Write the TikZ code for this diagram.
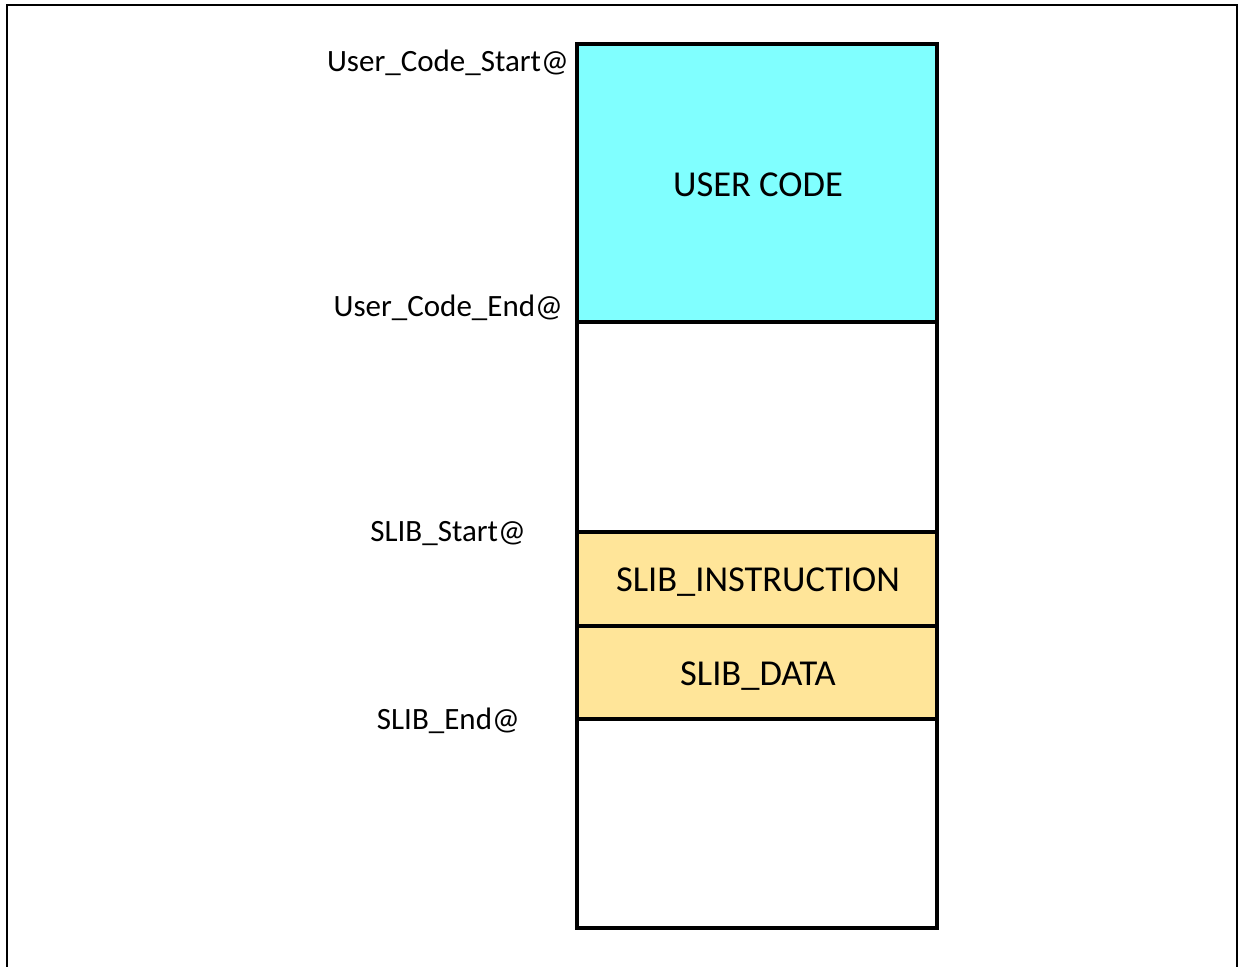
\documentclass[tikz,border=0pt]{standalone}
\usepackage{fontspec}
\setmainfont{Carlito}
\begin{document}
\begin{tikzpicture}[x=1pt,y=-1pt,
  seg/.style={draw=black,line width=3.5pt},
  lbl/.style={anchor=east,inner sep=0pt,font=\fontsize{31}{36}\selectfont},
  inlbl/.style={font=\fontsize{36.5}{42}\selectfont}]
\useasboundingbox (0,0) rectangle (1243,967);
\draw[line width=2pt] (7,975) -- (7,5) -- (1237,5) -- (1237,975);
% segments
\path[seg,fill={rgb,255:red,128;green,255;blue,255}] (577,44) rectangle (937,322);
\path[seg] (577,322) rectangle (937,532);
\path[seg,fill={rgb,255:red,255;green,229;blue,153}] (577,532) rectangle (937,626);
\path[seg,fill={rgb,255:red,255;green,229;blue,153}] (577,626) rectangle (937,719);
\path[seg] (577,719) rectangle (937,928);
\node[inlbl] (uc) at (758,185) {USER CODE};
\node[inlbl] (si) at (758,582) {SLIB\_INSTRUCTION};
\node[inlbl] (sd) at (758,676) {SLIB\_DATA};
\node[lbl] (ucs) at (569,63) {User\_Code\_Start@};
\node[lbl] (uce) at (563,308) {User\_Code\_End@};
\node[lbl] (ss) at (526,534) {SLIB\_Start@};
\node[lbl] (se) at (520,721) {SLIB\_End@};
\end{tikzpicture}
\end{document}
